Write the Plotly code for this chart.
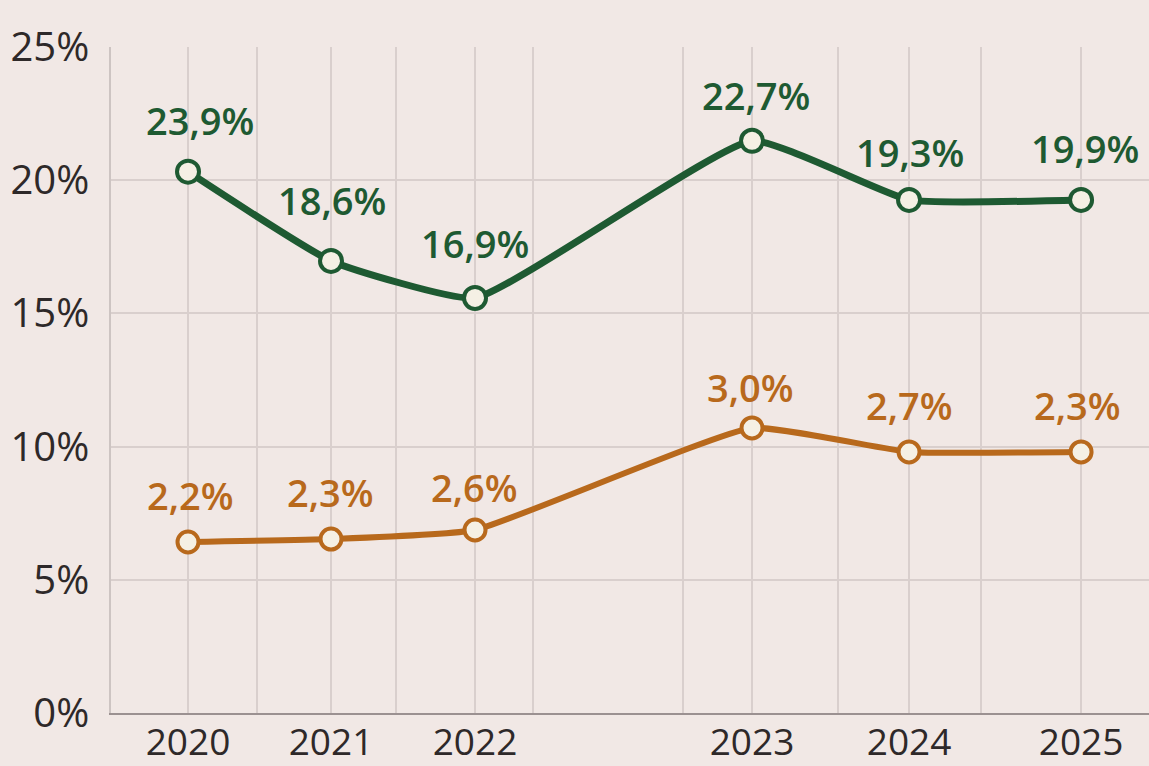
import plotly.graph_objects as go

# ---- data ----
years = ["2020", "2021", "2022", "2023", "2024", "2025"]
# horizontal slot of each year on the (uneven) time axis
year_slots = [0.0, 1.0, 2.007, 3.944, 5.042, 6.245]
green_values = [20.32, 16.97, 15.58, 21.48, 19.26, 19.26]
green_labels = ["23,9%", "18,6%", "16,9%", "22,7%", "19,3%", "19,9%"]
orange_values = [6.42, 6.53, 6.87, 10.70, 9.80, 9.80]
orange_labels = ["2,2%", "2,3%", "2,6%", "3,0%", "2,7%", "2,3%"]
y_ticks = [0, 5, 10, 15, 20, 25]
y_tick_labels = ["0%", "5%", "10%", "15%", "20%", "25%"]
minor_grid_slots = [0.483, 1.455, 2.413, 3.462, 4.545, 5.545]

# ---- styles ----
GREEN = "#1e5a32"
ORANGE = "#b8691c"
FILL = "#f5f0e4"
BG = "#f1e8e5"
GRID = "#d9cfcd"
FONT = "Open Sans"

green_label_shift = [(12, 52), (1, 61), (0, 55), (4, 46), (1, 48), (4, 52)]
orange_label_shift = [(2, 47), (-1, 47), (-1, 43), (-2, 41), (0, 47), (-4, 47)]

fig = go.Figure()

fig.add_trace(go.Scatter(
    x=year_slots, y=green_values, mode="lines+markers",
    line=dict(color=GREEN, width=7, shape="spline", smoothing=0.4),
    marker=dict(size=22, color=FILL, line=dict(color=GREEN, width=4)),
    hoverinfo="skip", showlegend=False,
))
fig.add_trace(go.Scatter(
    x=year_slots, y=orange_values, mode="lines+markers",
    line=dict(color=ORANGE, width=6, shape="spline", smoothing=0.4),
    marker=dict(size=21, color=FILL, line=dict(color=ORANGE, width=4)),
    hoverinfo="skip", showlegend=False,
))

annotations = []
for xs, ys, labs, shifts, col in [
    (year_slots, green_values, green_labels, green_label_shift, GREEN),
    (year_slots, orange_values, orange_labels, orange_label_shift, ORANGE),
]:
    for x, y, t, (dx, dy) in zip(xs, ys, labs, shifts):
        annotations.append(dict(
            x=x, y=y, xref="x", yref="y", text=t, showarrow=False,
            xshift=dx, yshift=dy, xanchor="center", yanchor="middle",
            font=dict(family=FONT, size=38, color=col, weight=600),
        ))

fig.update_layout(
    width=1149, height=766,
    margin=dict(l=111, r=0, t=47, b=53, autoexpand=False),
    paper_bgcolor=BG, plot_bgcolor=BG,
    annotations=annotations,
    xaxis=dict(
        range=[-0.5385, 6.72], automargin=False,
        tickmode="array", tickvals=year_slots, ticktext=years,
        showgrid=True, gridcolor=GRID, gridwidth=1.5,
        minor=dict(tickmode="array", tickvals=minor_grid_slots,
                   showgrid=True, gridcolor=GRID, gridwidth=1.5, ticks=""),
        showline=True, linecolor="#9b9191", linewidth=2,
        zeroline=False, ticks="", ticklabelstandoff=-4,
        tickfont=dict(family=FONT, size=37, color="#2e2929"),
    ),
    yaxis=dict(
        range=[0, 25], automargin=False,
        tickmode="array", tickvals=y_ticks, ticktext=y_tick_labels,
        showgrid=True, gridcolor=GRID, gridwidth=1.5,
        showline=True, linecolor="#cdc4c2", linewidth=1.5,
        zeroline=False, ticks="", ticklabelstandoff=12,
        tickfont=dict(family=FONT, size=40, color="#2e2929"),
    ),
)

fig.write_html(
    "out.html",
    config={"displayModeBar": False},
    post_script="document.body.style.margin='0';document.body.style.overflow='hidden';",
)
